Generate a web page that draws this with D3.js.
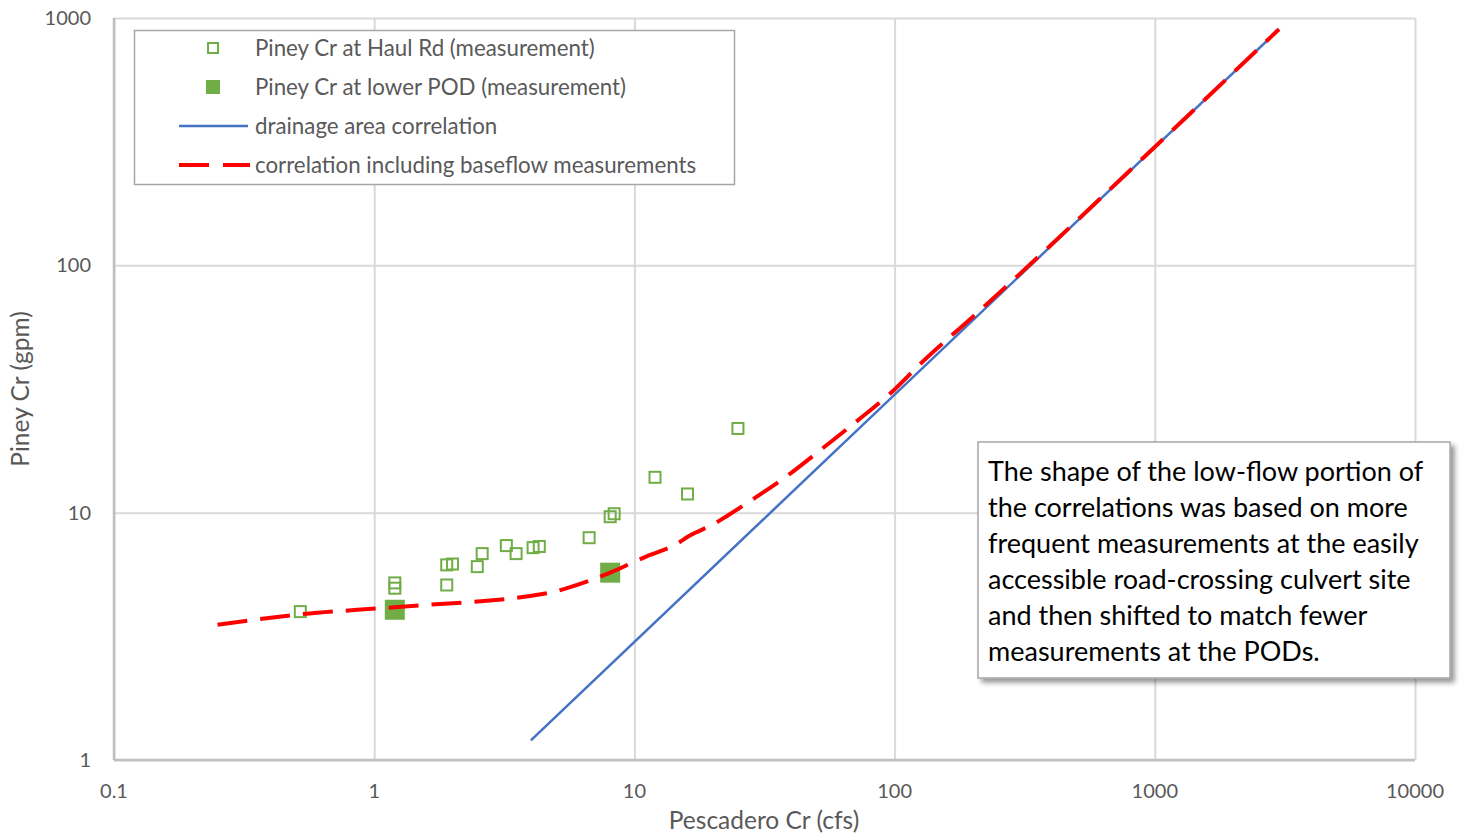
<!DOCTYPE html>
<html>
<head>
<meta charset="utf-8">
<script src="https://cdn.jsdelivr.net/npm/d3@7"></script>
<style>
  body { margin: 0; background: #fff; }
  text { font-family: Lato, "Open Sans", sans-serif; }
</style>
</head>
<body>
<div id="chart"></div>
<script>
// measurements at Piney Cr at Haul Rd (Pescadero cfs, Piney gpm)
var haulX = [0.52, 1.2, 1.2, 1.9, 1.9, 2.0, 2.49, 2.6, 3.22, 3.51, 4.08, 4.31, 6.7, 8.07, 8.36, 12.0, 16.0, 25.0];
var haulY = [3.98, 5.2, 4.95, 5.1, 6.15, 6.2, 6.05, 6.83, 7.36, 6.83, 7.22, 7.3, 7.92, 9.63, 9.9, 13.9, 11.9, 21.9];

// measurements at lower POD
var podX = [1.2, 8.07];
var podY = [4.05, 5.72];

// drainage area correlation
var drainX = [4, 3000];
var drainY = [1.2, 900];

// correlation including baseflow measurements
var corrX = [0.25, 0.52, 1.2, 4.75, 5.5, 8.07, 9.9, 11.3, 14.3, 16.4, 20.2, 22.7, 28.4, 38.7, 53.2, 71.8, 100, 128.8, 200, 300, 1000, 3000];
var corrY = [3.52, 3.88, 4.15, 4.75, 4.95, 5.72, 6.3, 6.7, 7.4, 8.1, 9.0, 9.7, 11.3, 14.1, 18.3, 23.5, 31.5, 41, 62, 91.5, 301, 900];

var xTicks = [0.1, 1, 10, 100, 1000, 10000];
var yTicks = [1, 10, 100, 1000];

var legendNames = ["Piney Cr at Haul Rd (measurement)", "Piney Cr at lower POD (measurement)",
                   "drainage area correlation", "correlation including baseflow measurements"];

var noteLines = ["The shape of the low-flow portion of",
                 "the correlations was based on more",
                 "frequent measurements at the easily",
                 "accessible road-crossing culvert site",
                 "and then shifted to match fewer",
                 "measurements at the PODs."];

var W = 1463, H = 836;
var green = "#70ad47", blue = "#4472c4", red = "#ff0000";

var svg = d3.select("#chart").append("svg")
    .attr("width", W)
    .attr("height", H);

var defs = svg.append("defs");
var f = defs.append("filter").attr("id", "shadow")
    .attr("x", "-10%").attr("y", "-10%").attr("width", "130%").attr("height", "130%");
f.append("feDropShadow").attr("dx", 4).attr("dy", 4).attr("stdDeviation", 2.5)
    .attr("flood-color", "#000").attr("flood-opacity", 0.4);

var x = d3.scaleLog().domain([0.1, 10000]).range([114, 1415]);
var y = d3.scaleLog().domain([1, 1000]).range([760, 18]);

// grid lines
svg.append("g")
    .attr("transform", "translate(0,760)")
    .call(d3.axisBottom(x).tickValues(xTicks).tickSize(-742).tickFormat(""))
    .call(function(g) { g.select(".domain").remove(); })
    .selectAll("line").attr("stroke", "#d9d9d9").attr("stroke-width", 2);

svg.append("g")
    .attr("transform", "translate(114,0)")
    .call(d3.axisLeft(y).tickValues(yTicks).tickSize(-1301).tickFormat(""))
    .call(function(g) { g.select(".domain").remove(); })
    .selectAll("line").attr("stroke", "#d9d9d9").attr("stroke-width", 2);

// axis lines
svg.append("line").attr("x1", 114).attr("x2", 1415).attr("y1", 760).attr("y2", 760)
    .attr("stroke", "#bfbfbf").attr("stroke-width", 2.5);
svg.append("line").attr("x1", 114).attr("x2", 114).attr("y1", 18).attr("y2", 760)
    .attr("stroke", "#bfbfbf").attr("stroke-width", 2.5);

// tick labels
var fmt = function(d) { return d < 1 ? "0.1" : String(d); };
svg.append("g").selectAll("text")
    .data(xTicks).enter().append("text")
    .attr("x", function(d) { return x(d); })
    .attr("y", 798)
    .attr("text-anchor", "middle")
    .attr("font-family", "DejaVu Sans, sans-serif")
    .attr("font-size", "20px")
    .attr("fill", "#595959")
    .text(fmt);

svg.append("g").selectAll("text")
    .data(yTicks).enter().append("text")
    .attr("x", 91)
    .attr("y", function(d) { return y(d) + 7; })
    .attr("text-anchor", "end")
    .attr("font-family", "DejaVu Sans, sans-serif")
    .attr("font-size", "20px")
    .attr("fill", "#595959")
    .text(fmt);

// axis titles
svg.append("text")
    .attr("x", 764).attr("y", 829)
    .attr("text-anchor", "middle")
    .attr("font-size", "24.5px")
    .attr("fill", "#595959")
    .text("Pescadero Cr (cfs)");

svg.append("text")
    .attr("transform", "translate(29,389) rotate(-90)")
    .attr("text-anchor", "middle")
    .attr("font-size", "24.5px")
    .attr("fill", "#595959")
    .text("Piney Cr (gpm)");

// markers
var haul = haulX.map(function(v, i) { return [v, haulY[i]]; });
var pod = podX.map(function(v, i) { return [v, podY[i]]; });

svg.append("g").selectAll("rect")
    .data(haul).enter().append("rect")
    .attr("x", function(d) { return x(d[0]) - 5.5; })
    .attr("y", function(d) { return y(d[1]) - 5.5; })
    .attr("width", 11).attr("height", 11)
    .attr("fill", "none")
    .attr("stroke", green)
    .attr("stroke-width", 2);

svg.append("g").selectAll("rect")
    .data(pod).enter().append("rect")
    .attr("x", function(d) { return x(d[0]) - 10; })
    .attr("y", function(d) { return y(d[1]) - 10; })
    .attr("width", 20).attr("height", 20)
    .attr("fill", green);

// lines
var line = d3.line()
    .x(function(d) { return x(d[0]); })
    .y(function(d) { return y(d[1]); });

svg.append("path")
    .datum(drainX.map(function(v, i) { return [v, drainY[i]]; }))
    .attr("d", line)
    .attr("fill", "none")
    .attr("stroke", blue)
    .attr("stroke-width", 2.5);

svg.append("path")
    .datum(corrX.map(function(v, i) { return [v, corrY[i]]; }))
    .attr("d", line.curve(d3.curveMonotoneX))
    .attr("fill", "none")
    .attr("stroke", red)
    .attr("stroke-width", 4)
    .attr("stroke-dasharray", "30,13");

// legend
var lg = svg.append("g");
lg.append("rect")
    .attr("x", 134.5).attr("y", 30.5)
    .attr("width", 600).attr("height", 154)
    .attr("fill", "#fff")
    .attr("stroke", "#a6a6a6")
    .attr("stroke-width", 1.5);

var rowY = [48, 87, 126, 165];
lg.selectAll("text.leg")
    .data(legendNames).enter().append("text")
    .attr("class", "leg")
    .attr("x", 255)
    .attr("y", function(d, i) { return rowY[i] + 7.5; })
    .attr("font-size", "22.3px")
    .attr("fill", "#595959")
    .text(function(d) { return d; });

lg.append("rect").attr("x", 208).attr("y", rowY[0] - 5).attr("width", 10).attr("height", 10)
    .attr("fill", "none").attr("stroke", green).attr("stroke-width", 2);
lg.append("rect").attr("x", 206).attr("y", rowY[1] - 7).attr("width", 14).attr("height", 14)
    .attr("fill", green);
lg.append("line").attr("x1", 179).attr("x2", 248).attr("y1", rowY[2]).attr("y2", rowY[2])
    .attr("stroke", blue).attr("stroke-width", 2.5);
lg.append("line").attr("x1", 179).attr("x2", 250).attr("y1", rowY[3]).attr("y2", rowY[3])
    .attr("stroke", red).attr("stroke-width", 4).attr("stroke-dasharray", "30,14");

// note box
var nb = svg.append("g");
nb.append("rect")
    .attr("x", 978).attr("y", 442)
    .attr("width", 472).attr("height", 236)
    .attr("fill", "#fff")
    .attr("stroke", "#a6a6a6")
    .attr("stroke-width", 1.5)
    .attr("filter", "url(#shadow)");

nb.selectAll("text")
    .data(noteLines).enter().append("text")
    .attr("x", 988)
    .attr("y", function(d, i) { return 481 + i * 36; })
    .attr("font-size", "27px")
    .attr("fill", "#000")
    .text(function(d) { return d; });
</script>
</body>
</html>
